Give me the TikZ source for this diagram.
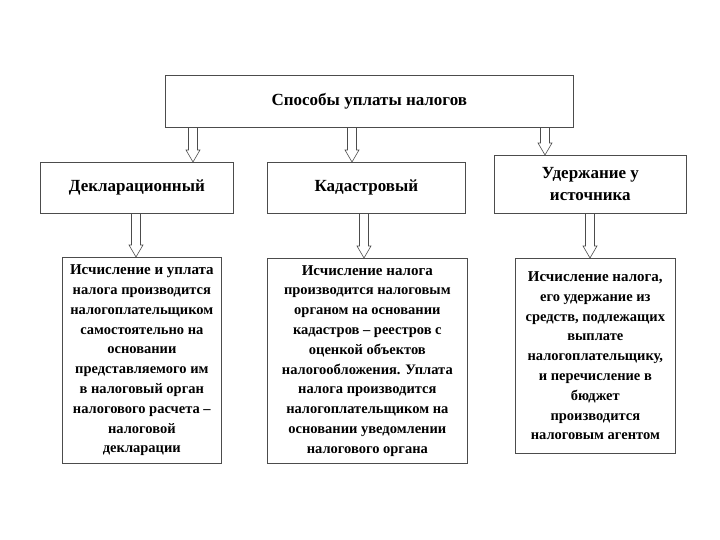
\documentclass[tikz,border=0pt]{standalone}
\usepackage{fontspec}
\setmainfont{Liberation Serif}
\usetikzlibrary{calc}
\begin{document}
\begin{tikzpicture}[x=1pt,y=-1pt,
  box/.style={draw=black!70, line width=0.7pt, fill=white, anchor=north west,
    inner sep=0pt, align=center},
  bigtext/.style={font=\bfseries\fontsize{17}{22}\selectfont},
  smalltext/.style={font=\bfseries\fontsize{14.5}{19.8}\selectfont},
  firstline/.style={},
  blockarrow/.style={draw=black!70, line width=0.6pt, line join=miter,
    to path={let \p1=(\tikztostart), \p2=(\tikztotarget) in
      (\x1-4.5pt,\y1) -- (\x1-4.5pt,\y2+12pt) -- (\x1-7pt,\y2+12pt) -- (\x1,\y2)
      -- (\x1+7pt,\y2+12pt) -- (\x1+4.5pt,\y2+12pt) -- (\x1+4.5pt,\y1)}}]
\useasboundingbox (0,0) rectangle (720,540);

\node[box, bigtext, minimum width=408pt, minimum height=52pt] (top) at (165,75) {Способы уплаты налогов};

\node[box, bigtext, minimum width=193pt, minimum height=51pt] (dec) at (40,162) {Декларационный};
\node[box, bigtext, minimum width=198pt, minimum height=51pt] (kad) at (267,162) {Кадастровый};
\node[box, bigtext, minimum width=192pt, minimum height=58pt] (ud) at (494,155) {Удержание у\\источника};

\node[box, smalltext, minimum width=159pt, minimum height=206pt] (da) at (62,257)
 {{\fontsize{15}{19.8}\selectfont Исчисление и уплата}\\налога производится\\налогоплательщиком\\самостоятельно на\\основании\\представляемого им\\в налоговый орган\\налогового расчета –\\налоговой\\декларации};
\node[box, smalltext, minimum width=200pt, minimum height=205pt] (ka) at (267,258)
 {{\fontsize{15}{19.8}\selectfont Исчисление налога}\\производится налоговым\\органом на основании\\кадастров – реестров с\\оценкой объектов\\налогообложения. Уплата\\налога производится\\налогоплательщиком на\\основании уведомлении\\налогового органа};
\node[box, smalltext, minimum width=160pt, minimum height=195pt] (ua) at (515,258)
 {{\fontsize{15}{19.8}\selectfont Исчисление налога,}\\его удержание из\\средств, подлежащих\\выплате\\налогоплательщику,\\и перечисление в\\бюджет\\производится\\налоговым агентом};

\coordinate (a1) at (193,0);
\coordinate (a2) at (352,0);
\coordinate (a3) at (545,0);
\coordinate (b1) at (136,0);
\coordinate (b2) at (364,0);
\coordinate (b3) at (590,0);

\draw[blockarrow] (top.south -| a1) to (dec.north -| a1);
\draw[blockarrow] (top.south -| a2) to (kad.north -| a2);
\draw[blockarrow] (top.south -| a3) to (ud.north -| a3);
\draw[blockarrow] (dec.south -| b1) to (da.north -| b1);
\draw[blockarrow] (kad.south -| b2) to (ka.north -| b2);
\draw[blockarrow] (ud.south -| b3) to (ua.north -| b3);
\end{tikzpicture}
\end{document}
